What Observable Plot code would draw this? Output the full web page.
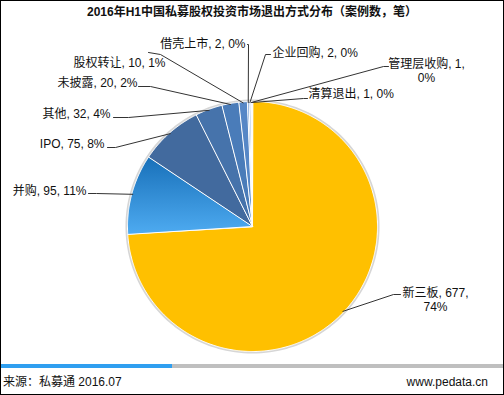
<!DOCTYPE html>
<html><head><meta charset="utf-8">
<script src="https://cdn.jsdelivr.net/npm/d3@7"></script>
<script src="https://cdn.jsdelivr.net/npm/@observablehq/plot@0.6"></script>
<style>
body{margin:0;background:#fff;}
#wrap{position:relative;width:504px;height:395px;overflow:hidden;font-family:"Liberation Sans","Noto Sans CJK SC",sans-serif;color:#111;}
#border{position:absolute;left:0;top:0;width:504px;height:395px;box-sizing:border-box;border:1px solid #000;pointer-events:none;}
#title{position:absolute;left:0;top:4px;width:504px;text-align:center;font-weight:bold;font-size:12px;line-height:16px;}
#chart{position:absolute;left:0;top:0;}
#bar{position:absolute;left:0;top:364px;width:504px;height:4px;background:linear-gradient(to right,#2f9ff0 0,#2f9ff0 172px,#bfbfbf 172px,#bfbfbf 100%);}
#src{position:absolute;left:3px;top:374px;font-size:12px;line-height:16px;}
#site{position:absolute;right:16px;top:374px;font-size:12px;line-height:16px;}
</style></head>
<body><div id="wrap"><div id="chart"></div><div id="title"></div><div id="bar"></div><div id="src"></div><div id="site"></div><div id="border"></div></div>
<script>
// ---- data ----
const titleText = "2016年H1中国私募股权投资市场退出方式分布（案例数，笔）";
const sourceText = "来源：私募通 2016.07";
const siteText = "www.pedata.cn";
const categories = ["新三板","并购","IPO","其他","未披露","股权转让","借壳上市","企业回购","管理层收购","清算退出"];
const values = [677,95,75,32,20,10,2,2,1,1];
const pctLabels = [74,11,8,4,2,1,0,0,0,0];

// ---- styles / layout ----
const sliceColors = ["#ffc000","url(#gBing)","#426a9e","#4673ab","#4a7cb9","#5687c6","#729bd2","#98b4df","#bccdea","#dde6f4"];
// label text anchor position, anchor side, wrap after 2nd comma, leader elbow and leader end
const labelLayout = [
  {x:435, y:299, anchor:"middle", wrap:true,  elbow:[393,294], end:[400,294]},
  {x:86,  y:190, anchor:"end",    wrap:false, elbow:[96,193],  end:[88,193]},
  {x:104, y:143, anchor:"end",    wrap:false, elbow:[115,147], end:[107,147]},
  {x:110, y:113, anchor:"end",    wrap:false, elbow:[128,117], end:[113,117]},
  {x:137, y:82,  anchor:"end",    wrap:false, elbow:[150,86],  end:[138,86]},
  {x:165, y:62,  anchor:"end",    wrap:false, elbow:[160,54],  end:[148,52]},
  {x:245, y:43,  anchor:"end",    wrap:false, elbow:[248,44],  end:[247,44]},
  {x:272, y:52,  anchor:"start",  wrap:false, elbow:[265,54],  end:[270,54]},
  {x:426, y:70,  anchor:"middle", wrap:true,  elbow:[383,66],  end:[388,66]},
  {x:308, y:93,  anchor:"start",  wrap:false, elbow:[303,98],  end:[307,98]}
];
const cx = 252, cy = 226, R = 125;
const W = 504, H = 362;

document.getElementById("title").textContent = titleText;
document.getElementById("src").textContent = sourceText;
document.getElementById("site").textContent = siteText;

const arcs = d3.pie().sort(null).value(d => d)(values);
const pt = (a, r) => [cx + r * Math.sin(a), cy - r * Math.cos(a)];

const slicePts = [];
arcs.forEach((a, i) => {
  slicePts.push({name: categories[i], p: [cx, cy]});
  const n = Math.max(2, Math.ceil((a.endAngle - a.startAngle) / (Math.PI / 360)));
  for (let k = 0; k <= n; k++) {
    const ang = a.startAngle + (a.endAngle - a.startAngle) * k / n;
    slicePts.push({name: categories[i], p: pt(ang, R)});
  }
});
const shadowPts = d3.range(0, 361, 2).map(deg => ({p: pt(deg * Math.PI / 180, R + 0.8)}));

const leaderPts = [];
const labels = [];
arcs.forEach((a, i) => {
  const L = labelLayout[i];
  const mid = (a.startAngle + a.endAngle) / 2;
  leaderPts.push({name: categories[i], p: pt(mid, R - 1)});
  leaderPts.push({name: categories[i], p: L.elbow});
  leaderPts.push({name: categories[i], p: L.end});
  const txt = L.wrap ? `${categories[i]}, ${values[i]},\n${pctLabels[i]}%` : `${categories[i]}, ${values[i]}, ${pctLabels[i]}%`;
  labels.push({x: L.x, y: L.y, anchor: L.anchor, text: txt});
});

const textOpts = {x: "x", y: "y", text: "text", fontSize: 12, fill: "#111", lineHeight: 1.2};
const svg = Plot.plot({
  width: W, height: H,
  margin: 0,
  x: {domain: [0, W], range: [0, W], axis: null},
  y: {domain: [0, H], range: [0, H], axis: null},
  color: {type: "ordinal", domain: categories, range: sliceColors},
  style: {background: "transparent", fontFamily: '"Liberation Sans","Noto Sans CJK SC",sans-serif', fontSize: "12px"},
  marks: [
    Plot.line(shadowPts, {x: d => d.p[0], y: d => d.p[1], stroke: "#d6d6d6", strokeWidth: 2.5, curve: "linear-closed"}),
    Plot.line(slicePts, {x: d => d.p[0], y: d => d.p[1], z: "name", fill: "name", stroke: "white", strokeWidth: 1, curve: "linear-closed"}),
    Plot.line(leaderPts, {x: d => d.p[0], y: d => d.p[1], z: "name", stroke: "#333", strokeWidth: 1}),
    Plot.text(labels.filter(d => d.anchor === "end"), {...textOpts, textAnchor: "end"}),
    Plot.text(labels.filter(d => d.anchor === "start"), {...textOpts, textAnchor: "start"}),
    Plot.text(labels.filter(d => d.anchor === "middle"), {...textOpts, textAnchor: "middle"})
  ]
});
const defs = d3.select(svg).insert("defs", ":first-child");
const g = defs.append("linearGradient").attr("id", "gBing").attr("x1", 0).attr("y1", 0).attr("x2", 0).attr("y2", 1);
g.append("stop").attr("offset", "0%").attr("stop-color", "#1870b9");
g.append("stop").attr("offset", "100%").attr("stop-color", "#4eabf1");
document.getElementById("chart").appendChild(svg);
</script>
</body></html>
